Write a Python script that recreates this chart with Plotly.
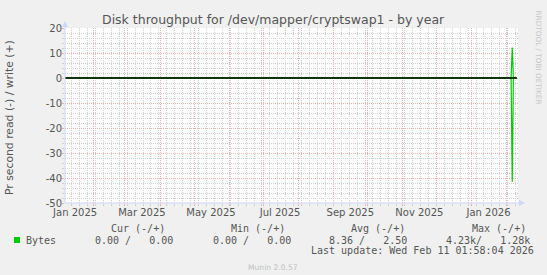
import plotly.graph_objects as go
import pandas as pd

# ---------------- data ----------------
title_text = "Disk throughput for /dev/mapper/cryptswap1 - by year"
y_title = "Pr second read (-) / write (+)"
range_start = "2025-01-07 01:58:04"
range_end = "2026-02-11 01:58:04"

dates = ["2025-01-07", "2026-02-05", "2026-02-06", "2026-02-07", "2026-02-10"]
read_bps = [0, 0, 41.5, 0, 0]      # plotted negative
write_bps = [0, 0, 12.2, 0, 0]
zero_line = [0, 0, 0, 0, 0]

y_ticks = [20, 10, 0, -10, -20, -30, -40, -50]
y_tick_labels = ["20", "10", "0", "-10", "-20", "-30", "-40", "-50"]

month_starts = ["2025-02-01", "2025-03-01", "2025-04-01", "2025-05-01", "2025-06-01",
                "2025-07-01", "2025-08-01", "2025-09-01", "2025-10-01", "2025-11-01",
                "2025-12-01", "2026-01-01", "2026-02-01"]
label_dates = ["2025-01-16", "2025-03-16", "2025-05-16", "2025-07-16",
               "2025-09-16", "2025-11-16", "2026-01-16"]
label_texts = ["Jan 2025", "Mar 2025", "May 2025", "Jul 2025",
               "Sep 2025", "Nov 2025", "Jan 2026"]

series_name = "Bytes"
legend_headers = ["Cur (-/+)", "Min (-/+)", "Avg (-/+)", "Max (-/+)"]
legend_values = ["0.00 /   0.00", "0.00 /   0.00", "8.36 /   2.50", "4.23k/   1.28k"]
last_update = "Last update: Wed Feb 11 01:58:04 2026"
watermark = "RRDTOOL / TOBI OETIKER"
footer = "Munin 2.0.57"

# ---------------- layout constants ----------------
W, H = 547, 275
L, R, T, B = 65, 518, 28, 203
PW, PH = R - L, B - T

GREEN = "#00CC00"
FONT_COL = "#555555"
AXIS_COL = "#CFD6F8"
MGRID = "#F0B0B0"
GRID = "#D0D0D0"
SANS = "DejaVu Sans"
MONO = "DejaVu Sans Mono"


def px(x):
    return (x - L) / PW


def py(y):
    return (B - y) / PH


def nb(s):
    return s.replace(" ", "\u00a0")


mondays = list(pd.date_range("2025-01-01", "2026-03-01", freq="W-MON").strftime("%Y-%m-%d"))

fig = go.Figure()
fig.add_trace(go.Scatter(x=label_dates, y=[None] * len(label_dates), xaxis="x2",
                         mode="lines", showlegend=False, hoverinfo="skip"))
fig.add_trace(go.Scatter(x=dates, y=[-v for v in read_bps], mode="lines",
                         line=dict(color=GREEN, width=1.2), showlegend=False))
fig.add_trace(go.Scatter(x=dates, y=write_bps, mode="lines",
                         line=dict(color=GREEN, width=1.2), showlegend=False))
fig.add_trace(go.Scatter(x=dates, y=zero_line, mode="lines",
                         line=dict(color="#000000", width=1.6), showlegend=False))

fig.update_layout(
    width=W, height=H,
    margin=dict(l=L, r=W - R, t=T, b=H - B, pad=0),
    paper_bgcolor="#F0F0F0", plot_bgcolor="#FFFFFF",
    font=dict(family=SANS, size=10, color=FONT_COL),
    showlegend=False,
    xaxis=dict(
        type="date", range=[range_start, range_end],
        tickmode="array", tickvals=month_starts, ticktext=[""] * len(month_starts),
        showgrid=True, gridcolor=MGRID, griddash="1px,1px", gridwidth=1,
        ticks="outside", ticklen=2, tickcolor=MGRID,
        minor=dict(tickmode="array", tickvals=mondays, showgrid=True,
                   gridcolor=GRID, griddash="1px,1px", ticks="outside",
                   ticklen=2, tickcolor=GRID),
        showline=False, zeroline=False, fixedrange=True,
    ),
    xaxis2=dict(
        type="date", range=[range_start, range_end], overlaying="x", anchor="y",
        side="bottom", tickmode="array", tickvals=label_dates, ticktext=label_texts,
        showgrid=False, ticks="", zeroline=False, showline=False,
        tickfont=dict(family=SANS, size=10, color=FONT_COL), ticklabelstandoff=2,
    ),
    yaxis=dict(
        range=[-50, 20], tickmode="array", tickvals=y_ticks, ticktext=y_tick_labels,
        showgrid=True, gridcolor=MGRID, griddash="1px,1px",
        ticks="outside", ticklen=2, tickcolor=MGRID,
        minor=dict(dtick=2, showgrid=True, gridcolor=GRID, griddash="1px,1px",
                   ticks="outside", ticklen=2, tickcolor=GRID),
        zeroline=False, showline=False, ticklabelstandoff=-2,
        tickfont=dict(family=SANS, size=10, color=FONT_COL),
    ),
)

shapes = []
# axes
shapes.append(dict(type="line", xref="paper", yref="paper", x0=px(L), x1=px(L),
                   y0=py(B), y1=py(T - 3), line=dict(color=AXIS_COL, width=1)))
shapes.append(dict(type="line", xref="paper", yref="paper", x0=px(L), x1=px(R + 3),
                   y0=py(B), y1=py(B), line=dict(color=AXIS_COL, width=1)))
# arrows
shapes.append(dict(type="path", xref="paper", yref="paper",
                   path=f"M {px(L-3)},{py(T-1)} L {px(L+3)},{py(T-1)} L {px(L)},{py(T-7)} Z",
                   fillcolor=AXIS_COL, line=dict(width=0)))
shapes.append(dict(type="path", xref="paper", yref="paper",
                   path=f"M {px(R+1)},{py(B-3)} L {px(R+1)},{py(B+3)} L {px(R+7)},{py(B)} Z",
                   fillcolor=AXIS_COL, line=dict(width=0)))
# legend swatch
shapes.append(dict(type="rect", xref="paper", yref="paper", x0=px(14), x1=px(20),
                   y0=py(243), y1=py(237), fillcolor=GREEN, line=dict(width=0)))
fig.update_layout(shapes=shapes)

ann = []
ann.append(dict(text=title_text, x=px(273.5), y=py(19.5), xanchor="center", yanchor="middle",
                font=dict(family=SANS, size=12.5, color=FONT_COL)))
ann.append(dict(text=y_title, x=px(9.5), y=py(117.5), xanchor="center", yanchor="middle",
                textangle=-90, font=dict(family=SANS, size=10.8, color=FONT_COL)))
ann.append(dict(text=watermark, x=px(538.5), y=py(57), xanchor="center", yanchor="middle",
                textangle=90, font=dict(family=SANS, size=7.3, color="#C8C8C8")))
for h, xl in zip(legend_headers, [110.5, 231, 351, 472]):
    ann.append(dict(text=nb(h), x=px(xl), y=py(228.3), xanchor="left", yanchor="middle",
                    font=dict(family=MONO, size=10, color=FONT_COL)))
ann.append(dict(text=series_name, x=px(25.7), y=py(240), xanchor="left", yanchor="middle",
                font=dict(family=MONO, size=10, color=FONT_COL)))
for v, xl in zip(legend_values, [94.7, 212.7, 329.4, 446.1]):
    ann.append(dict(text=nb(v), x=px(xl), y=py(240), xanchor="left", yanchor="middle",
                    font=dict(family=MONO, size=10, color=FONT_COL)))
ann.append(dict(text=nb(last_update), x=px(311), y=py(250.5), xanchor="left", yanchor="middle",
                font=dict(family=MONO, size=10, color=FONT_COL)))
ann.append(dict(text=footer, x=px(273), y=py(267), xanchor="center", yanchor="middle",
                font=dict(family=SANS, size=7.6, color="#C0C0C0")))
for a in ann:
    a.update(xref="paper", yref="paper", showarrow=False, borderpad=0, borderwidth=0)
fig.update_layout(annotations=ann)

fig.write_html("out.html", config={"displayModeBar": False})
